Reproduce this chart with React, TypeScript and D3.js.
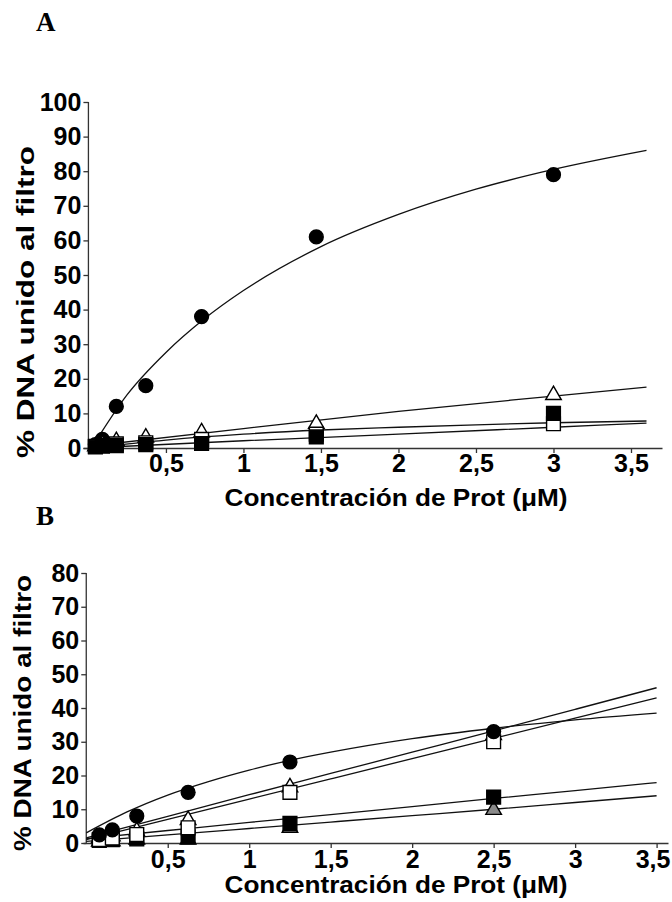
import React, { useEffect, useRef } from 'react';
import * as d3 from 'd3';

// Panel A data (% DNA bound vs protein concentration)
const aConc = [0.045, 0.09, 0.18, 0.37, 0.73, 1.47, 3];
const aCircles = [1, 2.5, 12, 18, 38, 61, 79];
const aOpenTri = [0.5, 1, 2, 3, 4.5, 7, 15.3];
const aOpenSq = [0.5, 0.8, 1.2, 1.5, 2.5, 4, 7];
const aFilledSq = [0.3, 0.5, 0.7, 1, 1.3, 3.2, 10];

// Panel A fitted curves
const aFitCircleX = [0.02, 0.25, 0.5, 0.75, 1, 1.5, 2, 2.5, 3, 3.6];
const aFitCircleY = [0, 15.4, 27.6, 37.4, 45.5, 58.2, 67.5, 74.8, 80.5, 86];
const aFitTriX = [0, 1, 2, 3, 3.6];
const aFitTriY = [0.5, 5.6, 10.6, 15, 17.6];
const aFitSq1X = [0, 0.5, 1, 1.5, 2, 2.5, 3, 3.6];
const aFitSq1Y = [0, 2.3, 4, 5.2, 6, 6.7, 7.3, 7.8];
const aFitSq2X = [0, 1, 2, 3, 3.6];
const aFitSq2Y = [0, 2.1, 4, 6, 7.2];

// Panel B data
const bConc = [0.08, 0.16, 0.31, 0.625, 1.25, 2.5];
const bCircles = [2.4, 3.9, 8, 15, 24, 33];
const bOpenTri = [1.5, 2, 3.5, 6.8, 16.5, 32];
const bOpenSq = [1, 1.5, 2.5, 4.5, 15, 30];
const bFilledSq = [0.8, 1, 1.2, 1.8, 5.8, 13.6];
const bGrayTri = [0.4, 0.5, 1, 1, 4.5, 9.8];

// Panel B fitted curves
const bFitCircleX = [0, 0.25, 0.5, 0.75, 1, 1.25, 1.5, 2, 2.5, 3, 3.5];
const bFitCircleY = [3, 9.2, 14.2, 18.2, 21.6, 24.5, 26.9, 30.9, 34, 36.5, 38.5];
const bFitX = [0, 0.5, 1, 1.5, 2, 2.5, 3, 3.5];
const bFitTriY = [1.5, 7.9, 14.3, 20.6, 26.9, 33.2, 39.6, 46];
const bFitOpenSqY = [1, 7, 13, 19, 25, 31, 37, 43];
const bFitFilledSqY = [1.3, 3.7, 6.1, 8.4, 10.8, 13.2, 15.5, 17.9];
const bFitGrayTriY = [0.5, 2.4, 4.3, 6.2, 8.1, 10, 12, 14];

const xTicks = [0.5, 1, 1.5, 2, 2.5, 3, 3.5];
const aYTicks = [0, 10, 20, 30, 40, 50, 60, 70, 80, 90, 100];
const bYTicks = [0, 10, 20, 30, 40, 50, 60, 70, 80];

const font = '"Liberation Sans", Arial, sans-serif';

const zip = (xs, ys) => xs.map((x, i) => [x, ys[i]]);

const panels = [
  {
    letter: 'A', letterY: 31,
    xDomain: [-0.035, 3.7], xRange: [83, 662],
    yDomain: [0, 100], yRange: [448, 102], yTicks: aYTicks,
    xTickPad: 1, lastTickDx: 0,
    xTitleY: 506, yTitleX: 34, yTitleCY: 302, yTitleLen: 312,
    fits: [
      zip(aFitCircleX, aFitCircleY),
      zip(aFitTriX, aFitTriY),
      zip(aFitSq1X, aFitSq1Y),
      zip(aFitSq2X, aFitSq2Y),
    ],
    series: [
      { x: aConc, y: aCircles, type: 'circle', fill: '#000' },
      { x: aConc, y: aOpenTri, type: 'triangle', fill: '#fff' },
      { x: aConc, y: aOpenSq, type: 'square', fill: '#fff' },
      { x: aConc, y: aFilledSq, type: 'square', fill: '#000' },
    ],
  },
  {
    letter: 'B', letterY: 525,
    xDomain: [-0.02, 3.57], xRange: [83, 668],
    yDomain: [0, 80], yRange: [843, 573], yTicks: bYTicks,
    xTickPad: 2, lastTickDx: -4,
    xTitleY: 893, yTitleX: 31, yTitleCY: 713, yTitleLen: 276,
    fits: [
      zip(bFitCircleX, bFitCircleY),
      zip(bFitX, bFitTriY),
      zip(bFitX, bFitOpenSqY),
      zip(bFitX, bFitFilledSqY),
      zip(bFitX, bFitGrayTriY),
    ],
    series: [
      { x: bConc, y: bGrayTri, type: 'triangle', fill: '#8a8a8a' },
      { x: bConc, y: bFilledSq, type: 'square', fill: '#000' },
      { x: bConc, y: bOpenTri, type: 'triangle', fill: '#fff' },
      { x: bConc, y: bOpenSq, type: 'square', fill: '#fff' },
      { x: bConc, y: bCircles, type: 'circle', fill: '#000' },
    ],
  },
];

const symbolTypes = {
  circle: d3.symbolCircle,
  square: d3.symbolSquare,
  triangle: d3.symbolTriangle,
};
const symbolSizes = { circle: 150, square: 190, triangle: 105 };

const App = () => {
  const svgRef = useRef();

  useEffect(() => {
    const svg = d3.select(svgRef.current);
    svg.selectAll('*').remove();

    panels.forEach(p => {
      const x = d3.scaleLinear().domain(p.xDomain).range(p.xRange);
      const y = d3.scaleLinear().domain(p.yDomain).range(p.yRange);
      const g = svg.append('g');

      // panel letter
      g.append('text')
        .attr('x', 36)
        .attr('y', p.letterY)
        .attr('font-family', '"Liberation Serif", "Times New Roman", serif')
        .attr('font-weight', 'bold')
        .attr('font-size', 27)
        .text(p.letter);

      // x axis
      const xAxis = g.append('g')
        .attr('transform', `translate(0,${y(0)})`)
        .call(d3.axisBottom(x)
          .tickValues(xTicks)
          .tickSize(5)
          .tickSizeOuter(0)
          .tickPadding(p.xTickPad)
          .tickFormat(d => String(d).replace('.', ',')));

      // y axis
      const yAxis = g.append('g')
        .attr('transform', `translate(${x(0)},0)`)
        .call(d3.axisLeft(y)
          .tickValues(p.yTicks)
          .tickSize(5)
          .tickSizeOuter(0)
          .tickPadding(2));

      [xAxis, yAxis].forEach(ax => {
        ax.selectAll('path, line').attr('stroke', '#333').attr('stroke-width', 1.3);
        ax.selectAll('text')
          .attr('font-family', font)
          .attr('font-weight', 'bold')
          .attr('font-size', 25)
          .attr('fill', '#000');
      });
      yAxis.select('.domain').attr('d', `M0,${y(0)}V${y(p.yDomain[1])}`);
      // keep the last x label inside the page
      xAxis.selectAll('.tick text')
        .filter(d => d === xTicks[xTicks.length - 1])
        .attr('dx', p.lastTickDx);

      // axis titles
      g.append('text')
        .attr('x', 396)
        .attr('y', p.xTitleY)
        .attr('text-anchor', 'middle')
        .attr('font-family', font)
        .attr('font-weight', 'bold')
        .attr('font-size', 23)
        .attr('textLength', 343)
        .attr('lengthAdjust', 'spacingAndGlyphs')
        .text('Concentración de Prot (μM)');

      g.append('text')
        .attr('transform', `translate(${p.yTitleX},${p.yTitleCY}) rotate(-90)`)
        .attr('text-anchor', 'middle')
        .attr('font-family', font)
        .attr('font-weight', 'bold')
        .attr('font-size', 23)
        .attr('textLength', p.yTitleLen)
        .attr('lengthAdjust', 'spacingAndGlyphs')
        .text('% DNA unido al filtro');

      // fitted curves
      const line = d3.line()
        .x(d => x(d[0]))
        .y(d => y(d[1]))
        .curve(d3.curveMonotoneX);

      g.selectAll('.fit')
        .data(p.fits)
        .enter()
        .append('path')
        .attr('d', line)
        .attr('fill', 'none')
        .attr('stroke', '#111')
        .attr('stroke-width', 1.3);

      // markers
      p.series.forEach(s => {
        const sym = d3.symbol().type(symbolTypes[s.type]).size(symbolSizes[s.type]);
        g.selectAll(null)
          .data(s.x.map((v, i) => [v, s.y[i]]))
          .enter()
          .append('path')
          .attr('transform', d => `translate(${x(d[0])},${y(d[1])})`)
          .attr('d', sym)
          .attr('fill', s.fill)
          .attr('stroke', '#000')
          .attr('stroke-width', 1.4);
      });
    });
  }, []);

  return (
    <svg
      ref={svgRef}
      width={672}
      height={902}
      style={{ position: 'absolute', left: 0, top: 0, background: '#fff' }}
    />
  );
};

export default App;
